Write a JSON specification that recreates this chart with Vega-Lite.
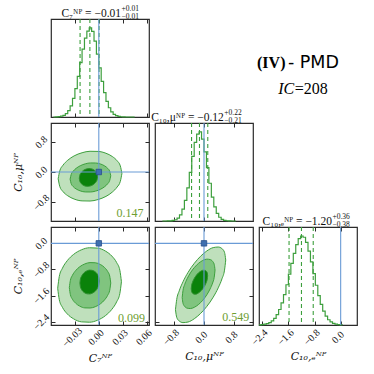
{
"$schema":"https://vega.github.io/schema/vega-lite/v6.json",
"padding":{"left":11,"top":4,"right":0,"bottom":2},
"columns":3,"spacing":6,"bounds":"flush",
"config":{
 "font":"Liberation Serif",
 "view":{"stroke":"#2b2b2b","strokeWidth":1.2},
 "axis":{"domain":false,"grid":false,"tickSize":-4,"tickColor":"#2b2b2b","tickWidth":1,"labelFont":"Liberation Serif","labelFontSize":10,"labelColor":"#111","labelAngle":-45,"labelAlign":"center","labelBaseline":"middle","titleFont":"DejaVu Serif","titleFontStyle":"italic","titleFontWeight":"normal","titleFontSize":11,"titleColor":"#111","labelOverlap":false,"labelFlush":false,"labelBound":false},
 "axisX":{"labelPadding":16,"labelOffset":-3,"titlePadding":4},
 "axisY":{"labelPadding":14,"titlePadding":8}
},
"datasets":{
 "h7":[{"x":-0.057,"c":0},{"x":-0.054,"c":0.002},{"x":-0.051,"c":0.004},{"x":-0.048,"c":0.009},{"x":-0.045,"c":0.019},{"x":-0.042,"c":0.038},{"x":-0.039,"c":0.072},{"x":-0.036,"c":0.126},{"x":-0.033,"c":0.208},{"x":-0.030,"c":0.318},{"x":-0.027,"c":0.455},{"x":-0.024,"c":0.610},{"x":-0.021,"c":0.762},{"x":-0.018,"c":0.885},{"x":-0.015,"c":0.965},{"x":-0.012,"c":1.0},{"x":-0.009,"c":0.962},{"x":-0.006,"c":0.852},{"x":-0.003,"c":0.705},{"x":0.000,"c":0.552},{"x":0.003,"c":0.400},{"x":0.006,"c":0.273},{"x":0.009,"c":0.175},{"x":0.012,"c":0.104},{"x":0.015,"c":0.058},{"x":0.018,"c":0.030},{"x":0.021,"c":0.015},{"x":0.024,"c":0.007},{"x":0.027,"c":0.003},{"x":0.030,"c":0.001},{"x":0.033,"c":0},{"x":0.045,"c":0}],
 "hmu":[{"x":-1.105,"c":0},{"x":-1.040,"c":0.0002},{"x":-0.975,"c":0.001},{"x":-0.910,"c":0.002},{"x":-0.845,"c":0.006},{"x":-0.780,"c":0.014},{"x":-0.715,"c":0.032},{"x":-0.650,"c":0.069},{"x":-0.585,"c":0.133},{"x":-0.520,"c":0.232},{"x":-0.455,"c":0.371},{"x":-0.390,"c":0.546},{"x":-0.325,"c":0.726},{"x":-0.260,"c":0.882},{"x":-0.195,"c":0.975},{"x":-0.130,"c":1.0},{"x":-0.065,"c":0.920},{"x":0.000,"c":0.777},{"x":0.065,"c":0.600},{"x":0.130,"c":0.424},{"x":0.195,"c":0.269},{"x":0.260,"c":0.158},{"x":0.325,"c":0.085},{"x":0.390,"c":0.042},{"x":0.455,"c":0.018},{"x":0.520,"c":0.008},{"x":0.585,"c":0.003},{"x":0.650,"c":0.001},{"x":0.715,"c":0},{"x":0.845,"c":0}],
 "he":[{"x":-2.500,"c":0.002},{"x":-2.425,"c":0.005},{"x":-2.350,"c":0.009},{"x":-2.275,"c":0.015},{"x":-2.200,"c":0.027},{"x":-2.125,"c":0.046},{"x":-2.050,"c":0.075},{"x":-1.975,"c":0.117},{"x":-1.900,"c":0.174},{"x":-1.825,"c":0.248},{"x":-1.750,"c":0.340},{"x":-1.675,"c":0.452},{"x":-1.600,"c":0.570},{"x":-1.525,"c":0.692},{"x":-1.450,"c":0.805},{"x":-1.375,"c":0.903},{"x":-1.300,"c":0.969},{"x":-1.225,"c":0.999},{"x":-1.150,"c":0.985},{"x":-1.075,"c":0.927},{"x":-1.000,"c":0.830},{"x":-0.925,"c":0.708},{"x":-0.850,"c":0.576},{"x":-0.775,"c":0.446},{"x":-0.700,"c":0.329},{"x":-0.625,"c":0.231},{"x":-0.550,"c":0.155},{"x":-0.475,"c":0.099},{"x":-0.400,"c":0.059},{"x":-0.325,"c":0.034},{"x":-0.250,"c":0.019},{"x":-0.175,"c":0.010},{"x":-0.100,"c":0.005},{"x":-0.025,"c":0.002},{"x":0.050,"c":0}],
 "k1":[
  {"l":1,"x":-0.051,"hi":-0.18,"lo":-0.18},{"l":1,"x":-0.049,"hi":0.029,"lo":-0.382},{"l":1,"x":-0.045,"hi":0.178,"lo":-0.518},{"l":1,"x":-0.039,"hi":0.312,"lo":-0.630},{"l":1,"x":-0.031,"hi":0.427,"lo":-0.717},{"l":1,"x":-0.021,"hi":0.511,"lo":-0.766},{"l":1,"x":-0.011,"hi":0.55,"lo":-0.77},{"l":1,"x":-0.001,"hi":0.546,"lo":-0.731},{"l":1,"x":0.009,"hi":0.497,"lo":-0.647},{"l":1,"x":0.017,"hi":0.410,"lo":-0.532},{"l":1,"x":0.023,"hi":0.297,"lo":-0.398},{"l":1,"x":0.027,"hi":0.162,"lo":-0.249},{"l":1,"x":0.029,"hi":-0.04,"lo":-0.04},
  {"l":2,"x":-0.036,"hi":-0.19,"lo":-0.19},{"l":2,"x":-0.0347,"hi":-0.068,"lo":-0.308},{"l":2,"x":-0.0322,"hi":0.020,"lo":-0.386},{"l":2,"x":-0.0284,"hi":0.098,"lo":-0.451},{"l":2,"x":-0.0233,"hi":0.166,"lo":-0.501},{"l":2,"x":-0.0169,"hi":0.217,"lo":-0.529},{"l":2,"x":-0.0105,"hi":0.240,"lo":-0.530},{"l":2,"x":-0.0041,"hi":0.239,"lo":-0.507},{"l":2,"x":0.0023,"hi":0.211,"lo":-0.456},{"l":2,"x":0.0074,"hi":0.161,"lo":-0.388},{"l":2,"x":0.0112,"hi":0.096,"lo":-0.310},{"l":2,"x":0.0137,"hi":0.018,"lo":-0.222},{"l":2,"x":0.015,"hi":-0.10,"lo":-0.10},
  {"l":3,"x":-0.0245,"hi":-0.165,"lo":-0.165},{"l":3,"x":-0.0239,"hi":-0.091,"lo":-0.237},{"l":3,"x":-0.0228,"hi":-0.038,"lo":-0.286},{"l":3,"x":-0.0211,"hi":0.009,"lo":-0.327},{"l":3,"x":-0.0188,"hi":0.049,"lo":-0.359},{"l":3,"x":-0.0159,"hi":0.077,"lo":-0.377},{"l":3,"x":-0.013,"hi":0.090,"lo":-0.380},{"l":3,"x":-0.0101,"hi":0.087,"lo":-0.367},{"l":3,"x":-0.0073,"hi":0.069,"lo":-0.339},{"l":3,"x":-0.0050,"hi":0.037,"lo":-0.299},{"l":3,"x":-0.0032,"hi":-0.004,"lo":-0.252},{"l":3,"x":-0.0021,"hi":-0.053,"lo":-0.199},{"l":3,"x":-0.0015,"hi":-0.125,"lo":-0.125}],
 "k2":[
  {"l":1,"x":-0.0516,"hi":-1.375,"lo":-1.375},{"l":1,"x":-0.0496,"hi":-1.014,"lo":-1.726},{"l":1,"x":-0.0456,"hi":-0.759,"lo":-1.961},{"l":1,"x":-0.0396,"hi":-0.531,"lo":-2.159},{"l":1,"x":-0.0316,"hi":-0.338,"lo":-2.312},{"l":1,"x":-0.0216,"hi":-0.196,"lo":-2.404},{"l":1,"x":-0.0116,"hi":-0.135,"lo":-2.415},{"l":1,"x":-0.0016,"hi":-0.146,"lo":-2.354},{"l":1,"x":0.0084,"hi":-0.238,"lo":-2.212},{"l":1,"x":0.0164,"hi":-0.391,"lo":-2.019},{"l":1,"x":0.0224,"hi":-0.589,"lo":-1.791},{"l":1,"x":0.0264,"hi":-0.824,"lo":-1.536},{"l":1,"x":0.0284,"hi":-1.175,"lo":-1.175},
  {"l":2,"x":-0.037,"hi":-1.355,"lo":-1.355},{"l":2,"x":-0.0357,"hi":-1.135,"lo":-1.569},{"l":2,"x":-0.0331,"hi":-0.979,"lo":-1.711},{"l":2,"x":-0.0292,"hi":-0.838,"lo":-1.830},{"l":2,"x":-0.024,"hi":-0.718,"lo":-1.922},{"l":2,"x":-0.0175,"hi":-0.630,"lo":-1.976},{"l":2,"x":-0.011,"hi":-0.590,"lo":-1.980},{"l":2,"x":-0.0045,"hi":-0.595,"lo":-1.941},{"l":2,"x":0.002,"hi":-0.648,"lo":-1.852},{"l":2,"x":0.0072,"hi":-0.740,"lo":-1.732},{"l":2,"x":0.0111,"hi":-0.860,"lo":-1.592},{"l":2,"x":0.0137,"hi":-1.002,"lo":-1.436},{"l":2,"x":0.015,"hi":-1.215,"lo":-1.215},
  {"l":3,"x":-0.0237,"hi":-1.215,"lo":-1.215},{"l":3,"x":-0.0231,"hi":-1.100,"lo":-1.328},{"l":3,"x":-0.0219,"hi":-1.019,"lo":-1.403},{"l":3,"x":-0.0201,"hi":-0.945,"lo":-1.467},{"l":3,"x":-0.0177,"hi":-0.884,"lo":-1.516},{"l":3,"x":-0.0146,"hi":-0.840,"lo":-1.546},{"l":3,"x":-0.0116,"hi":-0.820,"lo":-1.550},{"l":3,"x":-0.0086,"hi":-0.825,"lo":-1.531},{"l":3,"x":-0.0056,"hi":-0.854,"lo":-1.486},{"l":3,"x":-0.0031,"hi":-0.903,"lo":-1.425},{"l":3,"x":-0.0013,"hi":-0.968,"lo":-1.352},{"l":3,"x":-0.0001,"hi":-1.043,"lo":-1.271},{"l":3,"x":0.0005,"hi":-1.155,"lo":-1.155}],
 "k3":[
  {"l":1,"x":-0.757,"hi":-2.03,"lo":-2.03},{"l":1,"x":-0.724,"hi":-1.719,"lo":-2.265},{"l":1,"x":-0.657,"hi":-1.454,"lo":-2.378},{"l":1,"x":-0.557,"hi":-1.177,"lo":-2.427},{"l":1,"x":-0.424,"hi":-0.891,"lo":-2.409},{"l":1,"x":-0.257,"hi":-0.612,"lo":-2.308},{"l":1,"x":-0.09,"hi":-0.394,"lo":-2.146},{"l":1,"x":0.077,"hi":-0.232,"lo":-1.928},{"l":1,"x":0.244,"hi":-0.131,"lo":-1.649},{"l":1,"x":0.377,"hi":-0.113,"lo":-1.363},{"l":1,"x":0.477,"hi":-0.162,"lo":-1.086},{"l":1,"x":0.544,"hi":-0.275,"lo":-0.821},{"l":1,"x":0.577,"hi":-0.51,"lo":-0.51},
  {"l":2,"x":-0.579,"hi":-1.66,"lo":-1.66},{"l":2,"x":-0.557,"hi":-1.442,"lo":-1.836},{"l":2,"x":-0.514,"hi":-1.265,"lo":-1.929},{"l":2,"x":-0.448,"hi":-1.084,"lo":-1.984},{"l":2,"x":-0.361,"hi":-0.904,"lo":-1.996},{"l":2,"x":-0.252,"hi":-0.735,"lo":-1.955},{"l":2,"x":-0.143,"hi":-0.61,"lo":-1.87},{"l":2,"x":-0.034,"hi":-0.525,"lo":-1.745},{"l":2,"x":0.075,"hi":-0.484,"lo":-1.576},{"l":2,"x":0.162,"hi":-0.496,"lo":-1.396},{"l":2,"x":0.228,"hi":-0.551,"lo":-1.215},{"l":2,"x":0.271,"hi":-0.644,"lo":-1.038},{"l":2,"x":0.293,"hi":-0.82,"lo":-0.82},
  {"l":3,"x":-0.339,"hi":-1.39,"lo":-1.39},{"l":3,"x":-0.328,"hi":-1.283,"lo":-1.477},{"l":3,"x":-0.306,"hi":-1.197,"lo":-1.523},{"l":3,"x":-0.274,"hi":-1.109,"lo":-1.551},{"l":3,"x":-0.230,"hi":-1.022,"lo":-1.558},{"l":3,"x":-0.176,"hi":-0.94,"lo":-1.54},{"l":3,"x":-0.121,"hi":-0.88,"lo":-1.50},{"l":3,"x":-0.067,"hi":-0.84,"lo":-1.44},{"l":3,"x":-0.012,"hi":-0.822,"lo":-1.358},{"l":3,"x":0.032,"hi":-0.829,"lo":-1.271},{"l":3,"x":0.064,"hi":-0.857,"lo":-1.183},{"l":3,"x":0.086,"hi":-0.903,"lo":-1.097},{"l":3,"x":0.097,"hi":-0.99,"lo":-0.99}]
},
"concat":[
 {"width":98,"height":98,
  "layer":[
   {"layer":[
    {"data":{"name":"h7"},"mark":{"type":"line","interpolate":"step-after","color":"#3d9f3d","strokeWidth":1.2},
     "encoding":{"x":{"field":"x","type":"quantitative","scale":{"domain":[-0.06,0.063],"nice":false,"zero":false},"axis":{"values":[-0.03,0,0.03,0.06],"labels":false,"title":null}},
      "y":{"field":"c","type":"quantitative","scale":{"domain":[0,1.1],"nice":false},"axis":null}}},
    {"data":{"values":[{"x":-0.0235,"c":0},{"x":-0.0112,"c":0},{"x":0.0003,"c":0}]},"mark":{"type":"rule","color":"#3d9f3d","strokeDash":[4,3],"strokeWidth":1.1},"encoding":{"x":{"field":"x","type":"quantitative"}}},
    {"data":{"values":[{"x":0,"c":0}]},"mark":{"type":"rule","color":"#6a9bd6","strokeWidth":1.1},"encoding":{"x":{"field":"x","type":"quantitative"}}},
    {"data":{"values":[{"x":0.0279,"c":1.1224,"t":"C₇ᴺᴾ = −0.01"}]},"mark":{"type":"text","align":"right","baseline":"alphabetic","font":"Liberation Serif","fontSize":11.5,"color":"#111"},"encoding":{"x":{"field":"x","type":"quantitative"},"y":{"field":"c","type":"quantitative","axis":null},"text":{"field":"t"}}},
    {"data":{"values":[{"x":0.0279,"c":1.188,"t":"+0.01"},{"x":0.0279,"c":1.103,"t":"−0.01"}]},"mark":{"type":"text","align":"left","baseline":"alphabetic","font":"Liberation Serif","fontSize":7.5,"color":"#111","dx":0.5},"encoding":{"x":{"field":"x","type":"quantitative"},"y":{"field":"c","type":"quantitative","axis":null},"text":{"field":"t"}}}
   ]},
   {"data":{"values":[{"x":0,"c":0}]},"mark":{"type":"point","opacity":0},"encoding":{"x":{"field":"x","type":"quantitative","axis":{"orient":"top","values":[-0.03,0,0.03,0.06],"labels":false,"title":null}},"y":{"field":"c","type":"quantitative","axis":null}}}
  ],
  "resolve":{"axis":{"x":"independent"}}},
 {"width":98,"height":98,"view":{"stroke":null},"data":{"values":[]},"mark":"point"},
 {"width":98,"height":98,"view":{"stroke":null},
  "encoding":{"x":{"field":"x","type":"quantitative","scale":{"domain":[0,1]},"axis":null},"y":{"field":"y","type":"quantitative","scale":{"domain":[0,1]},"axis":null},"text":{"field":"t"}},
  "layer":[
   {"data":{"values":[{"x":0.27,"y":0.556,"t":"(IV)"}]},"mark":{"type":"text","align":"right","baseline":"middle","font":"Liberation Serif","fontWeight":"bold","fontSize":16,"color":"#000"}},
   {"data":{"values":[{"x":0.295,"y":0.556,"t":"- PMD"}]},"mark":{"type":"text","align":"left","baseline":"middle","font":"DejaVu Sans","fontSize":17.5,"color":"#000"}},
   {"data":{"values":[{"x":0.36,"y":0.29,"t":"IC"}]},"mark":{"type":"text","align":"right","baseline":"middle","font":"Liberation Serif","fontStyle":"italic","fontSize":16,"color":"#000"}},
   {"data":{"values":[{"x":0.365,"y":0.29,"t":"=208"}]},"mark":{"type":"text","align":"left","baseline":"middle","font":"Liberation Serif","fontSize":16,"color":"#000"}}
  ]},
 {"width":98,"height":98,
  "layer":[
   {"layer":[
     {"data":{"name":"k1"},"transform":[{"filter":"datum.l==1"}],"mark":{"type":"area","interpolate":"monotone","fill":"#bfe0bc","stroke":"#3d9f3d","strokeWidth":1,"clip":true},
      "encoding":{"x":{"field":"x","type":"quantitative","scale":{"domain":[-0.06,0.063],"nice":false,"zero":false},"axis":{"values":[-0.03,0,0.03,0.06],"labels":false,"title":null}},
       "y":{"field":"hi","type":"quantitative","scale":{"domain":[-1.3,1.3],"nice":false,"zero":false},"axis":{"values":[-0.8,0,0.8],"format":".1f","title":"C₁₀,μᴺᴾ"}},"y2":{"field":"lo"}}},
     {"data":{"name":"k1"},"transform":[{"filter":"datum.l==2"}],"mark":{"type":"area","interpolate":"monotone","fill":"#80c47f","stroke":"#3d9f3d","strokeWidth":1,"clip":true},
      "encoding":{"x":{"field":"x","type":"quantitative"},"y":{"field":"hi","type":"quantitative"},"y2":{"field":"lo"}}},
     {"data":{"name":"k1"},"transform":[{"filter":"datum.l==3"}],"mark":{"type":"area","interpolate":"monotone","fill":"#0a820a","stroke":"#2e8f2e","strokeWidth":1,"clip":true},
      "encoding":{"x":{"field":"x","type":"quantitative"},"y":{"field":"hi","type":"quantitative"},"y2":{"field":"lo"}}},
     {"data":{"values":[{"x":0,"hi":0}]},"mark":{"type":"rule","color":"#6a9bd6","strokeWidth":1.1},"encoding":{"x":{"field":"x","type":"quantitative"}}},
     {"data":{"values":[{"x":0,"hi":0}]},"mark":{"type":"rule","color":"#6a9bd6","strokeWidth":1.1},"encoding":{"y":{"field":"hi","type":"quantitative"}}},
     {"data":{"values":[{"x":0,"hi":0}]},"mark":{"type":"square","size":30,"fill":"#3f6fb0","stroke":"#2a4f8a","strokeWidth":0.8,"opacity":1},"encoding":{"x":{"field":"x","type":"quantitative"},"y":{"field":"hi","type":"quantitative"}}},
     {"data":{"values":[{"x":0.056,"hi":-1.09,"t":"0.147"}]},"mark":{"type":"text","align":"right","baseline":"middle","font":"Liberation Serif","fontSize":12,"color":"#6e9e32"},"encoding":{"x":{"field":"x","type":"quantitative"},"y":{"field":"hi","type":"quantitative"},"text":{"field":"t"}}}
    ]},
   {"data":{"values":[{"x":0,"hi":0}]},"mark":{"type":"point","opacity":0},
    "encoding":{"x":{"field":"x","type":"quantitative","axis":{"orient":"top","values":[-0.03,0,0.03,0.06],"labels":false,"title":null}},"y":{"field":"hi","type":"quantitative","axis":{"orient":"right","values":[-0.8,0,0.8],"labels":false,"title":null}}}}
  ],
  "resolve":{"axis":{"x":"independent","y":"independent"}}},
 {"width":98,"height":98,
  "layer":[
   {"layer":[
    {"data":{"name":"hmu"},"mark":{"type":"line","interpolate":"step-after","color":"#3d9f3d","strokeWidth":1.2},
     "encoding":{"x":{"field":"x","type":"quantitative","scale":{"domain":[-1.3,1.3],"nice":false,"zero":false},"axis":{"values":[-0.8,0,0.8],"labels":false,"title":null}},
      "y":{"field":"c","type":"quantitative","scale":{"domain":[0,1.1],"nice":false},"axis":null}}},
    {"data":{"values":[{"x":-0.33,"c":0},{"x":-0.12,"c":0},{"x":0.10,"c":0}]},"mark":{"type":"rule","color":"#3d9f3d","strokeDash":[4,3],"strokeWidth":1.1},"encoding":{"x":{"field":"x","type":"quantitative"}}},
    {"data":{"values":[{"x":0,"c":0}]},"mark":{"type":"rule","color":"#6a9bd6","strokeWidth":1.1},"encoding":{"x":{"field":"x","type":"quantitative"}}},
    {"data":{"values":[{"x":0.527,"c":1.1224,"t":"C₁₀,μᴺᴾ = −0.12"}]},"mark":{"type":"text","align":"right","baseline":"alphabetic","font":"Liberation Serif","fontSize":11.5,"color":"#111"},"encoding":{"x":{"field":"x","type":"quantitative"},"y":{"field":"c","type":"quantitative","axis":null},"text":{"field":"t"}}},
    {"data":{"values":[{"x":0.527,"c":1.188,"t":"+0.22"},{"x":0.527,"c":1.103,"t":"−0.21"}]},"mark":{"type":"text","align":"left","baseline":"alphabetic","font":"Liberation Serif","fontSize":7.5,"color":"#111","dx":0.5},"encoding":{"x":{"field":"x","type":"quantitative"},"y":{"field":"c","type":"quantitative","axis":null},"text":{"field":"t"}}}
   ]},
   {"data":{"values":[{"x":0,"c":0}]},"mark":{"type":"point","opacity":0},"encoding":{"x":{"field":"x","type":"quantitative","axis":{"orient":"top","values":[-0.8,0,0.8],"labels":false,"title":null}},"y":{"field":"c","type":"quantitative","axis":null}}}
  ],
  "resolve":{"axis":{"x":"independent"}}},
 {"width":98,"height":98,"view":{"stroke":null},"data":{"values":[]},"mark":"point"},
 {"width":98,"height":98,
  "layer":[
   {"layer":[
     {"data":{"name":"k2"},"transform":[{"filter":"datum.l==1"}],"mark":{"type":"area","interpolate":"monotone","fill":"#bfe0bc","stroke":"#3d9f3d","strokeWidth":1,"clip":true},
      "encoding":{"x":{"field":"x","type":"quantitative","scale":{"domain":[-0.06,0.063],"nice":false,"zero":false},"axis":{"values":[-0.03,0.03],"format":".2f","title":"C₇ᴺᴾ"}},
       "y":{"field":"hi","type":"quantitative","scale":{"domain":[-2.5,0.5],"nice":false,"zero":false},"axis":{"values":[-2.4,-0.8],"format":".1f","title":"C₁₀,ₑᴺᴾ"}},"y2":{"field":"lo"}}},
     {"data":{"name":"k2"},"transform":[{"filter":"datum.l==2"}],"mark":{"type":"area","interpolate":"monotone","fill":"#80c47f","stroke":"#3d9f3d","strokeWidth":1,"clip":true},
      "encoding":{"x":{"field":"x","type":"quantitative"},"y":{"field":"hi","type":"quantitative"},"y2":{"field":"lo"}}},
     {"data":{"name":"k2"},"transform":[{"filter":"datum.l==3"}],"mark":{"type":"area","interpolate":"monotone","fill":"#0a820a","stroke":"#2e8f2e","strokeWidth":1,"clip":true},
      "encoding":{"x":{"field":"x","type":"quantitative"},"y":{"field":"hi","type":"quantitative"},"y2":{"field":"lo"}}},
     {"data":{"values":[{"x":0,"hi":0}]},"mark":{"type":"rule","color":"#6a9bd6","strokeWidth":1.1},"encoding":{"x":{"field":"x","type":"quantitative"}}},
     {"data":{"values":[{"x":0,"hi":0}]},"mark":{"type":"rule","color":"#6a9bd6","strokeWidth":1.1},"encoding":{"y":{"field":"hi","type":"quantitative"}}},
     {"data":{"values":[{"x":0,"hi":0}]},"mark":{"type":"square","size":30,"fill":"#3f6fb0","stroke":"#2a4f8a","strokeWidth":0.8,"opacity":1},"encoding":{"x":{"field":"x","type":"quantitative"},"y":{"field":"hi","type":"quantitative"}}},
     {"data":{"values":[{"x":0.058,"hi":-2.28,"t":"0.099"}]},"mark":{"type":"text","align":"right","baseline":"middle","font":"Liberation Serif","fontSize":12,"color":"#6e9e32"},"encoding":{"x":{"field":"x","type":"quantitative"},"y":{"field":"hi","type":"quantitative"},"text":{"field":"t"}}}
    ]},
   {"data":{"values":[{"x":0,"hi":0}]},"mark":{"type":"point","opacity":0},
    "encoding":{"x":{"field":"x","type":"quantitative","axis":{"orient":"top","values":[-0.03,0,0.03,0.06],"labels":false,"title":null}},"y":{"field":"hi","type":"quantitative","axis":{"orient":"right","values":[-2.4,-1.6,-0.8,0],"labels":false,"title":null}}}},
   {"data":{"values":[{"x":0,"hi":0}]},"mark":{"type":"point","opacity":0},
    "encoding":{"x":{"field":"x","type":"quantitative","axis":{"orient":"bottom","values":[0,0.06],"format":".2f","title":null}},"y":{"field":"hi","type":"quantitative","axis":{"orient":"left","values":[-1.6,0],"format":".1f","title":null}}}}
  ],
  "resolve":{"axis":{"x":"independent","y":"independent"}}},
 {"width":98,"height":98,
  "layer":[
   {"layer":[
     {"data":{"name":"k3"},"transform":[{"filter":"datum.l==1"}],"mark":{"type":"area","interpolate":"monotone","fill":"#bfe0bc","stroke":"#3d9f3d","strokeWidth":1,"clip":true},
      "encoding":{"x":{"field":"x","type":"quantitative","scale":{"domain":[-1.3,1.3],"nice":false,"zero":false},"axis":{"values":[-0.8,0,0.8],"format":".1f","title":"C₁₀,μᴺᴾ"}},
       "y":{"field":"hi","type":"quantitative","scale":{"domain":[-2.5,0.5],"nice":false,"zero":false},"axis":{"values":[-2.4,-1.6,-0.8,0],"labels":false,"title":null}},"y2":{"field":"lo"}}},
     {"data":{"name":"k3"},"transform":[{"filter":"datum.l==2"}],"mark":{"type":"area","interpolate":"monotone","fill":"#80c47f","stroke":"#3d9f3d","strokeWidth":1,"clip":true},
      "encoding":{"x":{"field":"x","type":"quantitative"},"y":{"field":"hi","type":"quantitative"},"y2":{"field":"lo"}}},
     {"data":{"name":"k3"},"transform":[{"filter":"datum.l==3"}],"mark":{"type":"area","interpolate":"monotone","fill":"#0a820a","stroke":"#2e8f2e","strokeWidth":1,"clip":true},
      "encoding":{"x":{"field":"x","type":"quantitative"},"y":{"field":"hi","type":"quantitative"},"y2":{"field":"lo"}}},
     {"data":{"values":[{"x":0,"hi":0}]},"mark":{"type":"rule","color":"#6a9bd6","strokeWidth":1.1},"encoding":{"x":{"field":"x","type":"quantitative"}}},
     {"data":{"values":[{"x":0,"hi":0}]},"mark":{"type":"rule","color":"#6a9bd6","strokeWidth":1.1},"encoding":{"y":{"field":"hi","type":"quantitative"}}},
     {"data":{"values":[{"x":0,"hi":0}]},"mark":{"type":"square","size":30,"fill":"#3f6fb0","stroke":"#2a4f8a","strokeWidth":0.8,"opacity":1},"encoding":{"x":{"field":"x","type":"quantitative"},"y":{"field":"hi","type":"quantitative"}}},
     {"data":{"values":[{"x":1.2,"hi":-2.26,"t":"0.549"}]},"mark":{"type":"text","align":"right","baseline":"middle","font":"Liberation Serif","fontSize":12,"color":"#6e9e32"},"encoding":{"x":{"field":"x","type":"quantitative"},"y":{"field":"hi","type":"quantitative"},"text":{"field":"t"}}}
    ]},
   {"data":{"values":[{"x":0,"hi":0}]},"mark":{"type":"point","opacity":0},
    "encoding":{"x":{"field":"x","type":"quantitative","axis":{"orient":"top","values":[-0.8,0,0.8],"labels":false,"title":null}},"y":{"field":"hi","type":"quantitative","axis":{"orient":"right","values":[-2.4,-1.6,-0.8,0],"labels":false,"title":null}}}}
  ],
  "resolve":{"axis":{"x":"independent","y":"independent"}}},
 {"width":98,"height":98,
  "layer":[
   {"layer":[
    {"data":{"name":"he"},"mark":{"type":"line","interpolate":"step-after","color":"#3d9f3d","strokeWidth":1.2},
     "encoding":{"x":{"field":"x","type":"quantitative","scale":{"domain":[-2.5,0.5],"nice":false,"zero":false},"axis":{"values":[-2.4,-0.8],"format":".1f","title":"C₁₀,ₑᴺᴾ"}},
      "y":{"field":"c","type":"quantitative","scale":{"domain":[0,1.1],"nice":false},"axis":null}}},
    {"data":{"values":[{"x":-1.58,"c":0},{"x":-1.20,"c":0},{"x":-0.84,"c":0}]},"mark":{"type":"rule","color":"#3d9f3d","strokeDash":[4,3],"strokeWidth":1.1},"encoding":{"x":{"field":"x","type":"quantitative"}}},
    {"data":{"values":[{"x":0,"c":0}]},"mark":{"type":"rule","color":"#6a9bd6","strokeWidth":1.1},"encoding":{"x":{"field":"x","type":"quantitative"}}},
    {"data":{"values":[{"x":-0.265,"c":1.1224,"t":"C₁₀,ₑᴺᴾ = −1.20"}]},"mark":{"type":"text","align":"right","baseline":"alphabetic","font":"Liberation Serif","fontSize":11.5,"color":"#111"},"encoding":{"x":{"field":"x","type":"quantitative"},"y":{"field":"c","type":"quantitative","axis":null},"text":{"field":"t"}}},
    {"data":{"values":[{"x":-0.265,"c":1.188,"t":"+0.36"},{"x":-0.265,"c":1.103,"t":"−0.38"}]},"mark":{"type":"text","align":"left","baseline":"alphabetic","font":"Liberation Serif","fontSize":7.5,"color":"#111","dx":0.5},"encoding":{"x":{"field":"x","type":"quantitative"},"y":{"field":"c","type":"quantitative","axis":null},"text":{"field":"t"}}}
   ]},
   {"data":{"values":[{"x":0,"c":0}]},"mark":{"type":"point","opacity":0},"encoding":{"x":{"field":"x","type":"quantitative","axis":{"orient":"top","values":[-2.4,-1.6,-0.8,0],"labels":false,"title":null}},"y":{"field":"c","type":"quantitative","axis":null}}},
   {"data":{"values":[{"x":0,"c":0}]},"mark":{"type":"point","opacity":0},"encoding":{"x":{"field":"x","type":"quantitative","axis":{"orient":"bottom","values":[-1.6,0],"format":".1f","title":null}},"y":{"field":"c","type":"quantitative","axis":null}}}
  ],
  "resolve":{"axis":{"x":"independent"}}}
]
}
